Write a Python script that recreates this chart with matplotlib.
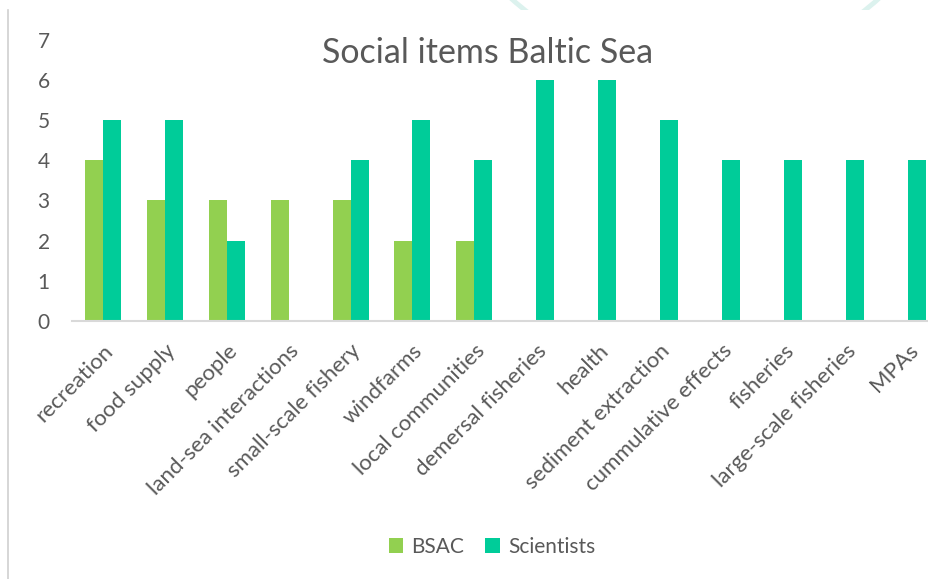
import matplotlib
matplotlib.use("Agg")
import matplotlib.pyplot as plt
from matplotlib.patches import Ellipse, Rectangle
from matplotlib.lines import Line2D
import numpy as np

plt.rcParams['font.family'] = ['Lato', 'DejaVu Sans']

# data
categories = ['recreation', 'food supply', 'people', 'land-sea interactions',
              'small-scale fishery', 'windfarms', 'local communities',
              'demersal fisheries', 'health', 'sediment extraction',
              'cummulative effects', 'fisheries', 'large-scale fisheries', 'MPAs']
bsac = [4, 3, 3, 3, 3, 2, 2, 0, 0, 0, 0, 0, 0, 0]
scientists = [5, 5, 2, 0, 4, 5, 4, 6, 6, 5, 4, 4, 4, 4]
yticks = [0, 1, 2, 3, 4, 5, 6, 7]

W, H = 929, 579
fig = plt.figure(figsize=(W / 100, H / 100), dpi=100)
grey = '#595959'

# faint decorative arc at the very top (slide background)
circ = Ellipse((695 / W, (H + 206) / H), 2 * 275 / W, 2 * 275 / H,
               transform=fig.transFigure, fill=False,
               edgecolor='#dcf2ee', linewidth=3.5)
fig.patches.append(circ)
clip = Rectangle((0, (H - 10) / H), 1, 10 / H, transform=fig.transFigure)
circ.set_clip_path(clip)

# thin border at left
fig.lines.append(Line2D([8 / W, 8 / W], [0, (H - 10) / H], transform=fig.transFigure,
                        color='#d0d0d0', linewidth=1.2))

left, right = 72 / W, 938.6 / W
bottom, top = 1 - 321 / H, 1 - 39.6 / H
ax = fig.add_axes([left, bottom, right - left, top - bottom])

x = np.arange(len(categories))
w = 0.29
ax.bar(x - w / 2, bsac, width=w, color='#92d050', label='BSAC')
ax.bar(x + w / 2, scientists, width=w, color='#00cc99', label='Scientists')

ax.set_xlim(-0.5, len(categories) - 0.5)
ax.set_ylim(0, 7)
ax.set_yticks(yticks)
ax.set_xticks(x)
ax.set_xticklabels(categories, rotation=45, ha='right', rotation_mode='anchor',
                   fontsize=16, color=grey)
ax.tick_params(axis='y', length=0, pad=16, labelsize=15, labelcolor=grey)
ax.tick_params(axis='x', length=0, pad=14)
for s in ['top', 'right', 'left']:
    ax.spines[s].set_visible(False)
ax.spines['bottom'].set_color('#d9d9d9')
ax.spines['bottom'].set_linewidth(1.5)

fig.text(488 / W, 1 - 53 / H, 'Social items Baltic Sea', ha='center', va='center',
         fontsize=24.5, color=grey)

fig.legend(loc='center', bbox_to_anchor=(492 / W, 1 - 547 / H), ncol=2, frameon=False,
           fontsize=15, handlelength=0.7, handleheight=0.7, handletextpad=0.4,
           columnspacing=1.0, labelcolor=grey)

fig.savefig('out.png', dpi=100)
